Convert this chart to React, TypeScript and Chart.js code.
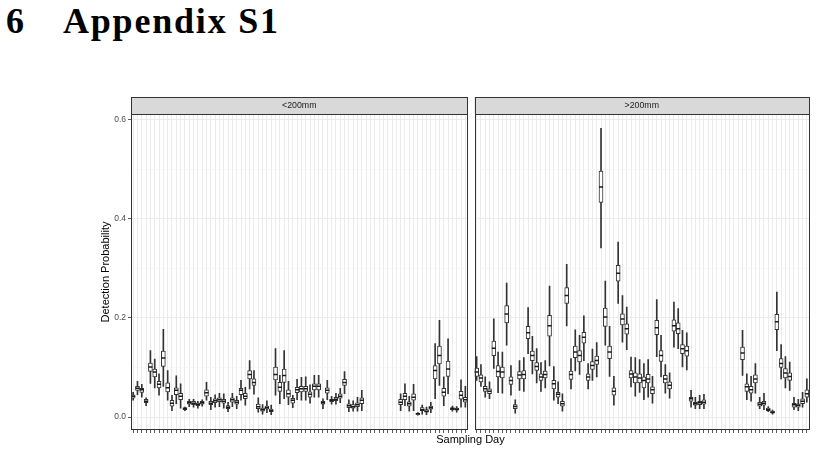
import React, { useEffect, useRef } from 'react';
import { Chart, registerables } from 'chart.js';

Chart.register(...registerables);

const SANS = '"Liberation Sans", Arial, Helvetica, sans-serif';

const DAYS = [
  '1', '2', '3', '4', '5', '6', '7', '8', '9', '10',
  '11', '12', '13', '14', '15', '16', '17', '18', '19', '20',
  '21', '22', '23', '24', '25', '26', '27', '28', '29', '30',
  '31', '32', '33', '34', '35', '36', '37', '38', '39', '40',
  '41', '42', '43', '44', '45', '46', '47', '48', '49', '50',
  '51', '52', '53', '54', '55', '56', '57', '58', '59', '60',
  '61', '62', '63', '64', '65', '66', '67', '68', '69', '70',
  '71', '72', '73', '74', '75', '76', '77', '78',
];

const Y_TICKS = [0, 0.1, 0.2, 0.3, 0.4, 0.5, 0.6];

const N = null;

// ---- <200mm ----
const SMALL_LOW = [
  .034, .045, .040, .023, .068, .059, .044, .062, .034, .013,
  .027, .018, .013, .021, .020, .018, .022, .034, .015, .020,
  .021, .018, .011, .021, .017, .034, .024, .057, .046, .010,
  .006, .009, .005, .044, .027, .037, .025, .019, .035, .034,
  .034, .028, .040, .040, .017, .035, .026, .026, .029, .047,
  .011, .012, .012, .013, N, N, N, N, N, N,
  N, N, .013, .023, .012, .013, .004, .006, .005, .009,
  .037, .064, .023, .047, .012, .010, .020, .020,
];
const SMALL_Q1 = [
  .038, .054, .050, .029, .092, .081, .059, .102, .051, .022,
  .045, .035, .015, .026, .025, .023, .026, .042, .025, .029,
  .031, .028, .017, .030, .026, .045, .037, .077, .064, .017,
  .012, .016, .011, .075, .052, .070, .040, .028, .049, .051,
  .052, .040, .055, .055, .026, .048, .031, .033, .038, .064,
  .019, .018, .021, .027, N, N, N, N, N, N,
  N, N, .025, .035, .022, .034, .005, .013, .010, .016,
  .077, .107, .042, .082, .015, .014, .036, .030,
];
const SMALL_MED = [
  .042, .058, .055, .032, .101, .091, .066, .119, .059, .028,
  .054, .042, .017, .029, .028, .026, .029, .049, .028, .033,
  .035, .032, .020, .035, .030, .054, .042, .086, .070, .021,
  .015, .019, .013, .086, .060, .084, .047, .034, .055, .057,
  .057, .046, .062, .062, .029, .054, .034, .036, .042, .070,
  .023, .021, .025, .034, N, N, N, N, N, N,
  N, N, .030, .042, .027, .040, .007, .015, .012, .019,
  .094, .124, .050, .097, .017, .016, .044, .035,
];
const SMALL_Q3 = [
  .045, .062, .058, .036, .109, .097, .072, .133, .069, .034,
  .059, .048, .019, .032, .032, .029, .032, .055, .032, .037,
  .039, .036, .023, .039, .034, .058, .048, .094, .077, .026,
  .018, .022, .016, .101, .070, .097, .055, .038, .060, .062,
  .062, .051, .067, .067, .032, .059, .036, .040, .047, .076,
  .027, .025, .029, .039, N, N, N, N, N, N,
  N, N, .036, .048, .031, .047, .008, .019, .015, .022,
  .104, .143, .058, .113, .019, .018, .052, .040,
];
const SMALL_HIGH = [
  .050, .072, .066, .039, .134, .117, .087, .177, .094, .044,
  .083, .067, .020, .036, .036, .032, .035, .070, .040, .045,
  .048, .047, .030, .048, .042, .074, .060, .114, .094, .039,
  .025, .033, .024, .138, .084, .134, .072, .044, .076, .080,
  .081, .065, .084, .084, .037, .074, .042, .048, .058, .092,
  .035, .033, .040, .054, N, N, N, N, N, N,
  N, N, .047, .067, .042, .066, .009, .024, .020, .030,
  .148, .195, .081, .158, .022, .021, .075, .062,
];

// ---- >200mm ----
const LARGE_LOW = [
  .074, .062, .040, .037, .098, .049, .048, .145, .044, .008,
  .054, .052, .128, .087, .069, .052, .059, .103, .034, .027,
  .012, .184, .057, .093, .086, .114, .057, .074, .081, .341,
  .145, .082, .024, .229, .151, .136, .061, .042, .050, .035,
  .040, .028, .122, .081, .048, .038, .141, .138, .101, .095,
  .020, .017, .017, .017, N, N, N, N, N, N,
  N, N, .084, .035, .032, .048, .017, .015, .011, .006,
  .134, .077, .059, .054, .015, .013, .020, .030,
];
const LARGE_Q1 = [
  .082, .071, .052, .047, .124, .081, .079, .190, .066, .017,
  .077, .077, .158, .114, .094, .074, .079, .163, .057, .040,
  .022, .229, .076, .120, .111, .149, .074, .096, .106, .433,
  .183, .118, .044, .274, .186, .167, .079, .069, .069, .059,
  .069, .047, .166, .112, .069, .057, .173, .168, .128, .123,
  .032, .024, .025, .026, N, N, N, N, N, N,
  N, N, .116, .052, .048, .069, .022, .024, .013, .008,
  .176, .100, .079, .074, .020, .020, .027, .040,
];
const LARGE_MED = [
  .091, .079, .057, .052, .139, .092, .091, .208, .074, .0215,
  .085, .086, .170, .124, .102, .081, .086, .184, .067, .046,
  .027, .245, .086, .131, .124, .161, .081, .104, .114, .464,
  .202, .131, .052, .290, .198, .178, .087, .081, .079, .074,
  .077, .055, .180, .124, .077, .064, .184, .178, .138, .134,
  .037, .027, .029, .030, N, N, N, N, N, N,
  N, N, .129, .061, .055, .077, .026, .028, .015, .010,
  .192, .108, .089, .082, .025, .024, .032, .047,
];
const LARGE_Q3 = [
  .099, .085, .062, .057, .153, .104, .101, .225, .081, .025,
  .092, .094, .183, .133, .110, .087, .093, .205, .074, .050,
  .032, .261, .093, .143, .134, .171, .087, .112, .123, .496,
  .220, .143, .059, .306, .208, .188, .094, .089, .087, .081,
  .086, .061, .195, .134, .084, .071, .196, .190, .146, .143,
  .040, .030, .032, .035, N, N, N, N, N, N,
  N, N, .141, .067, .062, .085, .030, .032, .018, .012,
  .207, .118, .098, .089, .028, .027, .037, .055,
];
const LARGE_HIGH = [
  .122, .106, .081, .071, .198, .131, .131, .270, .104, .035,
  .114, .120, .221, .163, .138, .110, .114, .264, .102, .071,
  .047, .308, .118, .176, .165, .204, .108, .137, .150, .582,
  .274, .183, .082, .353, .245, .222, .121, .120, .116, .108,
  .116, .082, .237, .165, .106, .089, .232, .219, .175, .170,
  .054, .040, .044, .046, N, N, N, N, N, N,
  N, N, .175, .087, .082, .108, .040, .048, .021, .014,
  .252, .146, .122, .111, .040, .036, .050, .077,
];

const isMajor = (v: number) => Math.round(v * 10) % 2 === 0;

const stripPlugin = {
  id: 'strip',
  afterDraw(chart: any, _args: any, opts: any) {
    const { ctx, chartArea } = chart;
    const { left, top, right, bottom } = chartArea;
    const sh = 17;
    ctx.save();
    // strip background + border
    ctx.fillStyle = '#d9d9d9';
    ctx.fillRect(left, top - sh, right - left, sh);
    ctx.strokeStyle = '#333333';
    ctx.lineWidth = 1;
    ctx.strokeRect(Math.round(left) + 0.5, Math.round(top - sh) + 0.5, Math.round(right - left) - 1, sh);
    // strip label
    ctx.fillStyle = '#1a1a1a';
    ctx.font = `8.8px ${SANS}`;
    ctx.textAlign = 'center';
    ctx.textBaseline = 'middle';
    ctx.fillText(opts.label, (left + right) / 2, top - sh / 2);
    // panel border
    ctx.strokeStyle = '#333333';
    ctx.lineWidth = 1;
    ctx.strokeRect(Math.round(left) + 0.5, Math.round(top) + 0.5, Math.round(right - left) - 1, Math.round(bottom - top) - 1);
    ctx.restore();
  },
};

type PanelProps = {
  label: string;
  low: (number | null)[];
  q1: (number | null)[];
  med: (number | null)[];
  q3: (number | null)[];
  high: (number | null)[];
  showY: boolean;
  left: number;
  top: number;
  width: number;
  height: number;
  padLeft: number;
  padRight: number;
};

function Panel(p: PanelProps) {
  const ref = useRef<HTMLCanvasElement>(null);
  useEffect(() => {
    if (!ref.current) return;
    const whiskers = p.low.map((l, i) => (l == null || p.high[i] == null ? null : [l, p.high[i]]));
    const boxes = p.q1.map((v, i) => (v == null || p.q3[i] == null ? null : [v, p.q3[i]]));
    const chart = new Chart(ref.current, {
      type: 'bar',
      data: {
        labels: DAYS,
        datasets: [
          {
            type: 'bar',
            data: whiskers as any,
            backgroundColor: '#333333',
            borderWidth: 0,
            barThickness: 1,
            grouped: false,
            order: 3,
          } as any,
          {
            type: 'bar',
            data: boxes as any,
            backgroundColor: '#ffffff',
            borderColor: '#333333',
            borderWidth: 1,
            borderSkipped: false,
            barThickness: 4,
            grouped: false,
            order: 2,
          } as any,
          {
            type: 'line',
            data: p.med as any,
            showLine: false,
            pointStyle: 'line',
            pointRadius: 2,
            pointHoverRadius: 2,
            pointBorderWidth: 1.5,
            pointBorderColor: '#1a1a1a',
            borderColor: '#1a1a1a',
            order: 1,
          } as any,
        ],
      },
      options: {
        animation: false,
        responsive: false,
        maintainAspectRatio: false,
        events: [],
        layout: { padding: { top: 24, left: p.padLeft, right: p.padRight, bottom: 0 } },
        plugins: {
          legend: { display: false },
          tooltip: { enabled: false },
          strip: { label: p.label },
        } as any,
        scales: {
          x: {
            offset: true,
            grid: {
              offset: false,
              color: '#ebebeb',
              lineWidth: 1,
              drawTicks: true,
              tickLength: 3,
              tickColor: '#333333',
              tickWidth: 0.8,
            },
            border: { display: false },
            ticks: { display: false },
            afterFit: (s: any) => {
              s.height = 10;
            },
          },
          y: {
            min: -0.026,
            max: 0.611,
            afterBuildTicks: (s: any) => {
              s.ticks = Y_TICKS.map((v) => ({ value: v }));
            },
            grid: {
              color: (c: any) => (isMajor(c.tick.value) ? '#ebebeb' : '#f4f4f4'),
              lineWidth: (c: any) => (isMajor(c.tick.value) ? 1 : 0.6),
              drawTicks: p.showY,
              tickLength: 3,
              tickWidth: 0.8,
              tickColor: (c: any) => (isMajor(c.tick.value) ? '#333333' : 'rgba(0,0,0,0)'),
            },
            border: { display: false },
            ticks: {
              display: p.showY,
              padding: 2,
              color: '#4d4d4d',
              font: { size: 8.5, family: SANS },
              callback: (v: any) => (isMajor(Number(v)) ? Number(v).toFixed(1) : ''),
            },
            title: {
              display: p.showY,
              text: 'Detection Probability',
              color: '#000000',
              font: { size: 11, family: SANS },
              padding: { top: 14, bottom: 0 },
            },
            afterFit: (s: any) => {
              s.width = p.showY ? 46 : 0;
            },
          },
        },
      } as any,
      plugins: [stripPlugin as any],
    });
    return () => chart.destroy();
  }, []);
  return (
    <canvas
      ref={ref}
      width={p.width}
      height={p.height}
      style={{ position: 'absolute', left: p.left, top: p.top, width: p.width, height: p.height, display: 'block' }}
    />
  );
}

export default function App() {
  return (
    <div style={{ position: 'absolute', left: 0, top: 0, width: 817, height: 453, background: '#ffffff', overflow: 'hidden' }}>
      <div
        style={{
          position: 'absolute',
          left: 6,
          top: 0,
          fontFamily: '"Liberation Serif", "Times New Roman", serif',
          fontWeight: 'bold',
          fontSize: 36,
          lineHeight: 'normal',
          color: '#000',
          whiteSpace: 'nowrap',
        }}
      >
        6
      </div>
      <div
        style={{
          position: 'absolute',
          left: 63,
          top: 0,
          fontFamily: '"Liberation Serif", "Times New Roman", serif',
          fontWeight: 'bold',
          fontSize: 36,
          lineHeight: 'normal',
          letterSpacing: '1.8px',
          color: '#000',
          whiteSpace: 'nowrap',
        }}
      >
        Appendix S1
      </div>
      <Panel
        label="<200mm"
        low={SMALL_LOW}
        q1={SMALL_Q1}
        med={SMALL_MED}
        q3={SMALL_Q3}
        high={SMALL_HIGH}
        showY={true}
        left={85}
        top={90}
        width={386}
        height={350}
        padLeft={0}
        padRight={2}
      />
      <Panel
        label=">200mm"
        low={LARGE_LOW}
        q1={LARGE_Q1}
        med={LARGE_MED}
        q3={LARGE_Q3}
        high={LARGE_HIGH}
        showY={false}
        left={471}
        top={90}
        width={346}
        height={350}
        padLeft={2}
        padRight={8}
      />
      <div
        style={{
          position: 'absolute',
          left: 0,
          top: 433,
          width: 941,
          textAlign: 'center',
          fontFamily: SANS,
          fontSize: 11,
          lineHeight: '13px',
          color: '#000',
          whiteSpace: 'nowrap',
        }}
      >
        Sampling Day
      </div>
    </div>
  );
}
